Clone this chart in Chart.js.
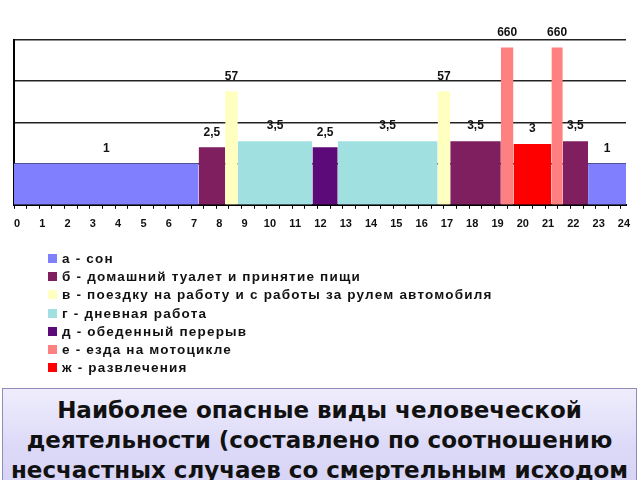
<!DOCTYPE html>
<html>
<head>
<meta charset="utf-8">
<script src="https://cdn.jsdelivr.net/npm/chart.js@4.4.1/dist/chart.umd.min.js"></script>
<style>
  body { margin: 0; width: 640px; height: 480px; overflow: hidden; background: #fff; position: relative; font-family: "Liberation Sans", Arial, sans-serif; }
  #wrap { position: absolute; left: 0; top: 0; width: 640px; height: 253px; }
  #legend { position: absolute; left: 48px; top: 249px; list-style: none; margin: 0; padding: 0; }
  #legend li { height: 18.3px; font-weight: bold; font-size: 13.5px; letter-spacing: 1.2px; display: flex; align-items: center; color: #111; }
  #legend span { display: inline-block; width: 9px; height: 9px; margin-right: 5px; }
  #caption { position: absolute; left: 2px; top: 388px; width: 635px; height: 100px; box-sizing: border-box;
    border: 1px solid #8f8cb8; background: linear-gradient(#efedfc, #dcd9f8 60%, #d6d3f5);
    font-family: "DejaVu Sans", sans-serif; font-weight: bold; font-size: 23px; line-height: 30px;
    text-align: center; padding-top: 6px; color: #111; white-space: nowrap; }
</style>
</head>
<body>
<div id="wrap"><canvas id="chart"></canvas></div>
<ul id="legend"></ul>
<div id="caption">Наиболее опасные виды человеческой<br>деятельности (составлено по соотношению<br>несчастных случаев со смертельным исходом</div>
<script>
// activities (legend) and their colours
const categories = [
  'а - сон',
  'б - домашний туалет и принятие пищи',
  'в - поездку на работу и с работы за рулем автомобиля',
  'г - дневная работа',
  'д - обеденный перерыв',
  'е - езда на мотоцикле',
  'ж - развлечения'
];
const categoryColors = ['#8080ff', '#7f1f5f', '#ffffc0', '#a0e0e0', '#5c0a7a', '#ff8080', '#ff0000'];

// time segments of the day (hours), activity index and relative danger value
const segStart    = [0,   7.3,  8.35, 8.85, 11.8, 12.8, 16.75, 17.25, 19.25, 19.75, 21.25, 21.7, 22.7];
const segEnd      = [7.3, 8.35, 8.85, 11.8, 12.8, 16.75, 17.25, 19.25, 19.75, 21.25, 21.7, 22.7, 24.2];
const segCategory = [0,   1,    2,    3,    4,    3,    2,     1,     5,     6,     5,     1,    0];
const segValue    = [1,   2.5,  57,   3.5,  2.5,  3.5,  57,    3.5,   660,   3,     660,   3.5,  1];

const hourTicks = [0, 0.5, 1, 1.5, 2, 2.5, 3, 3.5, 4, 4.5, 5, 5.5, 6, 6.5, 7, 7.5, 8, 8.5, 9, 9.5, 10, 10.5,
  11, 11.5, 12, 12.5, 13, 13.5, 14, 14.5, 15, 15.5, 16, 16.5, 17, 17.5, 18, 18.5, 19, 19.5, 20, 20.5,
  21, 21.5, 22, 22.5, 23, 23.5, 24];
const valueGrid = [0.1, 1, 10, 100, 1000];


const legend = document.getElementById('legend');
categories.forEach((name, i) => {
  const li = document.createElement('li');
  const box = document.createElement('span');
  box.style.background = categoryColors[i];
  li.appendChild(box);
  li.appendChild(document.createTextNode(name));
  legend.appendChild(li);
});

function formatValue(v) {
  return String(v).replace('.', ',');
}

const valueLabels = {
  id: 'valueLabels',
  afterDatasetsDraw(chart) {
    const { ctx, scales: { x, y } } = chart;
    ctx.save();
    ctx.font = 'bold 12px "Liberation Sans", Arial, sans-serif';
    ctx.fillStyle = '#111';
    ctx.textAlign = 'center';
    ctx.textBaseline = 'middle';
    segValue.forEach((v, i) => {
      const cx = x.getPixelForValue((segStart[i] + segEnd[i]) / 2);
      const cy = y.getPixelForValue(v) - 15;
      ctx.fillText(formatValue(v), cx, cy);
    });
    ctx.restore();
  }
};

const datasets = segValue.map((v, i) => ({
  label: categories[segCategory[i]],
  data: [{ x: segStart[i], y: v }, { x: segEnd[i], y: v }],
  fill: 'start',
  backgroundColor: categoryColors[segCategory[i]],
  borderWidth: 0,
  pointRadius: 0,
  tension: 0
}));

new Chart(document.getElementById('chart'), {
  type: 'line',
  data: { datasets },
  options: {
    responsive: true,
    maintainAspectRatio: false,
    animation: false,
    layout: { padding: { left: 14, right: 14, top: 40, bottom: 13 } },
    plugins: { legend: { display: false }, tooltip: { enabled: false } },
    scales: {
      x: {
        type: 'linear',
        min: 0,
        max: 24.2,
        afterBuildTicks: s => { s.ticks = hourTicks.map(v => ({ value: v })); },
        grid: { drawOnChartArea: false, tickLength: 4, color: '#000', lineWidth: 1 },
        border: { color: '#000', width: 2 },
        ticks: {
          autoSkip: false,
          maxRotation: 0,
          padding: 9,
          labelOffset: 3,
          color: '#111',
          font: { family: '"Liberation Sans", Arial, sans-serif', weight: 'bold', size: 11 },
          callback: v => Number.isInteger(v) ? v : ''
        }
      },
      y: {
        type: 'logarithmic',
        min: 0.1,
        max: 1000,
        afterBuildTicks: s => { s.ticks = valueGrid.map(v => ({ value: v })); },
        ticks: { display: false },
        grid: { color: '#222', lineWidth: 1.5, drawTicks: false },
        border: { color: '#000', width: 2 }
      }
    }
  },
  plugins: [valueLabels]
});
</script>
</body>
</html>
